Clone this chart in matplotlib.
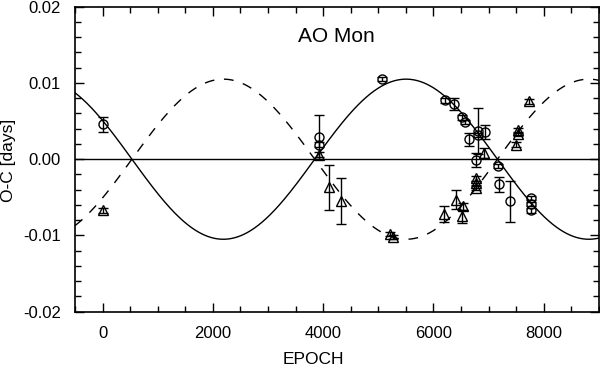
import numpy as np
import matplotlib
matplotlib.use('Agg')
import matplotlib.pyplot as plt
from matplotlib.ticker import MultipleLocator

plt.rcParams['font.family'] = ['Liberation Sans', 'DejaVu Sans']

# primary minima (circles): epoch, O-C, error
prim_epoch = [0, 3922, 3922, 5070, 6219, 6376, 6519, 6570, 6648, 6811, 6811,
              6932, 6780, 7173, 7186, 7385, 7778, 7778, 7778]
prim_oc = [0.0046, 0.0029, 0.0019, 0.0105, 0.0077, 0.0072, 0.0055, 0.0049, 0.0026,
           0.0037, 0.0032, 0.0036, -0.0001, -0.0009, -0.0033, -0.0055, -0.0051,
           -0.0059, -0.0067]
prim_err = [0.0010, 0.0029, 0.0003, 0.0003, 0.0003, 0.0008, 0.0003, 0.0003, 0.0009,
            0.0030, 0.0003, 0.0009, 0.0009, 0.0003, 0.0010, 0.0027, 0.0003,
            0.0003, 0.0003]

# secondary minima (triangles)
sec_epoch = [0, 3922, 4109, 4321, 5222, 5270, 6194, 6406, 6539, 6521, 6780, 6780,
             6780, 6920, 7506, 7537, 7537, 7730]
sec_oc = [-0.0067, 0.0006, -0.0037, -0.0055, -0.0098, -0.0102, -0.0072, -0.0053,
          -0.0062, -0.0075, -0.0025, -0.0031, -0.0038, 0.0008, 0.0019, 0.0033,
          0.0038, 0.0076]
sec_err = [0.0003, 0.0003, 0.0030, 0.0030, 0.0003, 0.0003, 0.0010, 0.0012, 0.0004,
           0.0009, 0.0003, 0.0003, 0.0003, 0.0007, 0.0003, 0.0003, 0.0003, 0.0003]

# apsidal motion fit
amp = 0.0105
period = 6630
epoch_max = 5505

E = np.linspace(-500, 9000, 800)
fit = amp * np.cos(2 * np.pi * (E - epoch_max) / period)

fig = plt.figure(figsize=(6, 3.67), dpi=100)
ax = fig.add_axes([0.125, 0.1507, 0.873, 0.831])

ax.axhline(0, color='black', lw=1.0)
ax.plot(E, fit, color='black', lw=1.0)
ax.plot(E, -fit, color='black', lw=1.0, dashes=(7, 7))

ax.errorbar(prim_epoch, prim_oc, yerr=prim_err, fmt='o', mfc='none', mec='black',
            ms=6.5, mew=1.0, ecolor='black', elinewidth=1.0, capsize=3.5, capthick=1.0)
ax.errorbar(sec_epoch, sec_oc, yerr=sec_err, fmt='^', mfc='none', mec='black',
            ms=6.5, mew=1.0, ecolor='black', elinewidth=1.0, capsize=3.5, capthick=1.0)

ax.text(4240, 0.0161, 'AO Mon', fontsize=15, ha='center', va='center')

ax.set_xlim(-500, 9000)
ax.set_ylim(-0.02, 0.02)
ax.xaxis.set_major_locator(MultipleLocator(2000))
ax.xaxis.set_minor_locator(MultipleLocator(500))
ax.yaxis.set_major_locator(MultipleLocator(0.01))
ax.yaxis.set_minor_locator(MultipleLocator(0.002))
ax.set_yticks([-0.02, -0.01, 0.0, 0.01, 0.02])
ax.set_yticklabels(['-0.02', '-0.01', '0.00', '0.01', '0.02'])
ax.tick_params(which='both', direction='in', top=True, right=True, labelsize=12, width=1.0)
ax.tick_params(which='major', length=6.5, pad=10)
ax.tick_params(which='minor', length=4)
for s in ax.spines.values():
    s.set_linewidth(1.2)

fig.text(313 / 600, 1 - 360 / 367, 'EPOCH', fontsize=12.5, ha='center', va='center')
fig.text(9 / 600, 1 - 160 / 367, 'O-C [days]', fontsize=12.5, rotation=90,
         ha='center', va='center')

fig.savefig('out.png', dpi=100)
